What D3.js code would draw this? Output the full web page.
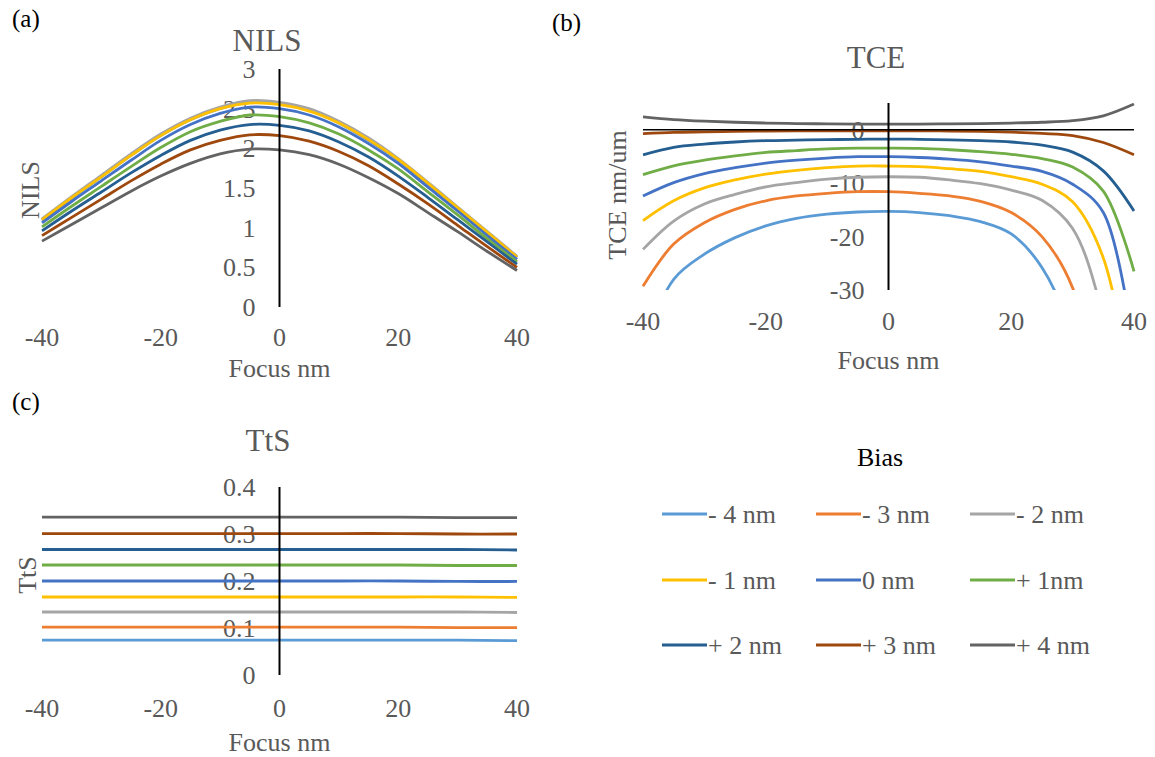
<!DOCTYPE html>
<html>
<head>
<meta charset="utf-8">
<script src="https://cdn.jsdelivr.net/npm/d3@7"></script>
<style>
  body { margin: 0; background: #fff; }
  svg { display: block; }
  text { font-family: "Liberation Serif", "Times New Roman", serif; }
</style>
</head>
<body>
<svg id="chart" width="1155" height="757"></svg>
<script>
// bias series (legend order)
const biasLabels = ['- 4 nm', '- 3 nm', '- 2 nm', '- 1 nm', '0 nm', '+ 1nm', '+ 2 nm', '+ 3 nm', '+ 4 nm']
const biasColors = ['#5b9bd5', '#ed7d31', '#a5a5a5', '#ffc000', '#4472c4', '#70ad47', '#255e91', '#9e480e', '#636363']

const focus = [-40, -35, -30, -25, -20, -15, -10, -5, 0, 5, 10, 15, 20, 25, 30, 35, 40]
const ttsFocus = [-40, -30, -20, -10, 0, 10, 20, 30, 40]
const xTicks = [-40, -20, 0, 20, 40]

// NILS vs focus, one row per bias
const nilsValues = [
  [1.09, 1.37, 1.64, 1.91, 2.16, 2.36, 2.50, 2.58, 2.56, 2.48, 2.32, 2.10, 1.85, 1.55, 1.24, 0.93, 0.62],
  [1.10, 1.38, 1.65, 1.92, 2.17, 2.37, 2.51, 2.59, 2.57, 2.48, 2.33, 2.11, 1.86, 1.56, 1.25, 0.94, 0.63],
  [1.11, 1.39, 1.66, 1.93, 2.18, 2.38, 2.52, 2.60, 2.58, 2.50, 2.34, 2.13, 1.87, 1.57, 1.26, 0.95, 0.64],
  [1.10, 1.38, 1.64, 1.91, 2.16, 2.36, 2.50, 2.57, 2.55, 2.47, 2.32, 2.11, 1.86, 1.56, 1.25, 0.94, 0.63],
  [1.06, 1.33, 1.59, 1.85, 2.10, 2.30, 2.44, 2.52, 2.50, 2.42, 2.27, 2.06, 1.81, 1.51, 1.21, 0.90, 0.60],
  [1.01, 1.27, 1.52, 1.77, 2.01, 2.21, 2.34, 2.42, 2.40, 2.32, 2.18, 1.98, 1.74, 1.45, 1.16, 0.86, 0.57],
  [0.96, 1.21, 1.45, 1.69, 1.91, 2.10, 2.23, 2.30, 2.29, 2.22, 2.08, 1.89, 1.65, 1.38, 1.10, 0.82, 0.54],
  [0.90, 1.13, 1.36, 1.59, 1.80, 1.98, 2.10, 2.17, 2.16, 2.09, 1.96, 1.78, 1.55, 1.30, 1.03, 0.76, 0.50],
  [0.83, 1.04, 1.25, 1.46, 1.65, 1.81, 1.93, 1.99, 1.98, 1.92, 1.80, 1.63, 1.43, 1.19, 0.95, 0.70, 0.46]
]

// TCE (nm/um) vs focus, one row per bias
const tceValues = [
  [-40, -28.0, -23.3, -20.2, -18.0, -16.6, -15.8, -15.4, -15.3, -15.5, -16.1, -17.2, -19.5, -25.8, -39, -70, -110],
  [-29.3, -21.4, -17.4, -14.9, -13.3, -12.4, -11.9, -11.6, -11.6, -11.9, -12.4, -13.4, -15.5, -20.0, -29.6, -55, -90],
  [-22.4, -17.1, -13.9, -12.1, -10.7, -9.9, -9.25, -8.9, -8.8, -8.9, -9.4, -10.1, -11.3, -13.2, -18.5, -35, -65],
  [-17.0, -13.3, -10.9, -9.4, -8.3, -7.6, -7.1, -6.8, -6.8, -6.9, -7.3, -7.8, -8.8, -10.2, -13.5, -24, -52],
  [-12.4, -9.9, -8.2, -7.1, -6.25, -5.7, -5.3, -5.05, -5.05, -5.2, -5.5, -6.0, -6.8, -7.8, -10.2, -15.5, -41],
  [-8.4, -6.75, -5.7, -4.9, -4.25, -3.9, -3.6, -3.45, -3.45, -3.5, -3.75, -4.1, -4.6, -5.4, -7.0, -11.5, -26.5],
  [-4.7, -3.3, -2.7, -2.3, -2.05, -1.95, -1.85, -1.8, -1.75, -1.8, -1.9, -2.05, -2.3, -2.9, -4.2, -7.7, -15.2],
  [-0.75, -0.5, -0.4, -0.3, -0.25, -0.2, -0.2, -0.2, -0.2, -0.2, -0.25, -0.3, -0.45, -0.7, -1.1, -2.4, -4.7],
  [2.4, 1.9, 1.6, 1.4, 1.25, 1.15, 1.1, 1.05, 1.05, 1.05, 1.1, 1.15, 1.25, 1.4, 1.7, 2.6, 4.8]
]

// TtS vs focus, one row per bias
const ttsValues = [
  [0.074, 0.074, 0.074, 0.074, 0.074, 0.074, 0.074, 0.074, 0.073],
  [0.102, 0.102, 0.102, 0.102, 0.102, 0.102, 0.102, 0.101, 0.101],
  [0.134, 0.134, 0.134, 0.134, 0.134, 0.134, 0.134, 0.134, 0.133],
  [0.166, 0.166, 0.166, 0.166, 0.166, 0.166, 0.166, 0.166, 0.165],
  [0.200, 0.200, 0.200, 0.200, 0.200, 0.200, 0.200, 0.199, 0.199],
  [0.234, 0.234, 0.234, 0.234, 0.234, 0.234, 0.234, 0.233, 0.233],
  [0.267, 0.267, 0.267, 0.267, 0.267, 0.267, 0.267, 0.267, 0.266],
  [0.301, 0.301, 0.301, 0.301, 0.301, 0.301, 0.301, 0.300, 0.300],
  [0.336, 0.336, 0.336, 0.336, 0.336, 0.336, 0.336, 0.335, 0.335]
]

const textGray = '#595959'
const svg = d3.select('#chart')

function drawPanel (p) {
  const g = svg.append('g').attr('class', 'panel').attr('id', `panel-${p.id}`)
  const x = d3.scaleLinear().domain([-40, 40]).range(p.xRange)
  const y = d3.scaleLinear().domain(p.yDomain).range(p.yRange)

  // panel letter
  g.append('text')
    .attr('x', p.letterPos[0]).attr('y', p.letterPos[1])
    .attr('dy', '0.35em')
    .attr('font-size', 25).attr('fill', '#000')
    .text(`(${p.id})`)

  // chart title
  g.append('text')
    .attr('x', p.titlePos[0]).attr('y', p.titlePos[1])
    .attr('dy', '0.35em').attr('text-anchor', 'middle')
    .attr('font-size', 31).attr('fill', textGray)
    .text(p.title)

  // vertical axis title
  g.append('text')
    .attr('transform', `translate(${p.yTitlePos[0]},${p.yTitlePos[1]}) rotate(-90)`)
    .attr('dy', '0.35em').attr('text-anchor', 'middle')
    .attr('font-size', 26).attr('fill', textGray)
    .text(p.yTitle)

  // horizontal axis labels + title
  g.append('g').selectAll('text')
    .data(xTicks)
    .join('text')
    .attr('x', d => x(d)).attr('y', p.xLabelY)
    .attr('dy', '0.35em').attr('text-anchor', 'middle')
    .attr('font-size', 26).attr('fill', textGray)
    .text(d => d)
  g.append('text')
    .attr('x', x(0)).attr('y', p.xTitleY)
    .attr('dy', '0.35em').attr('text-anchor', 'middle')
    .attr('font-size', 26).attr('fill', textGray)
    .text('Focus nm')

  // vertical axis labels (sit beside the axis at x = 0)
  g.append('g').selectAll('text')
    .data(p.yTicks)
    .join('text')
    .attr('x', x(0) - 24).attr('y', d => y(d))
    .attr('dy', '0.35em').attr('text-anchor', 'end')
    .attr('font-size', 26).attr('fill', textGray)
    .text(p.yFormat)

  // clip to plot area
  const clipId = `clip-${p.id}`
  g.append('clipPath').attr('id', clipId)
    .append('rect')
    .attr('x', p.xRange[0] - 3).attr('y', y(p.yDomain[1]))
    .attr('width', p.xRange[1] - p.xRange[0] + 6)
    .attr('height', y(p.yDomain[0]) - y(p.yDomain[1]))

  const line = d3.line()
    .x(d => x(d[0]))
    .y(d => y(d[1]))
    .curve(d3.curveCatmullRom.alpha(0.5))

  g.append('g').attr('clip-path', `url(#${clipId})`)
    .selectAll('path')
    .data(p.values)
    .join('path')
    .attr('d', vals => line(p.xs.map((f, i) => [f, vals[i]])))
    .attr('fill', 'none')
    .attr('stroke', (d, i) => biasColors[i])
    .attr('stroke-width', 2.8)
    .attr('stroke-linejoin', 'round')

  // horizontal axis line at zero (only TCE shows it)
  if (p.zeroLine) {
    g.append('line')
      .attr('x1', p.xRange[0]).attr('x2', p.xRange[1])
      .attr('y1', y(0)).attr('y2', y(0))
      .attr('stroke', '#000').attr('stroke-width', 1.5)
  }

  // vertical axis line
  g.append('line')
    .attr('x1', x(0)).attr('x2', x(0))
    .attr('y1', y(p.yDomain[1])).attr('y2', y(p.yDomain[0]))
    .attr('stroke', '#000').attr('stroke-width', 2)
}

drawPanel({
  id: 'a',
  title: 'NILS',
  yTitle: 'NILS',
  letterPos: [12, 18],
  titlePos: [267, 40],
  yTitlePos: [30, 190],
  xRange: [42, 517],
  yRange: [307, 69],
  yDomain: [0, 3],
  yTicks: [0, 0.5, 1, 1.5, 2, 2.5, 3],
  yFormat: d => d,
  xLabelY: 337,
  xTitleY: 368,
  xs: focus,
  values: nilsValues
})

drawPanel({
  id: 'b',
  title: 'TCE',
  yTitle: 'TCE nm/um',
  letterPos: [552, 22],
  titlePos: [876, 57],
  yTitlePos: [617, 195],
  xRange: [643, 1134],
  yRange: [290, 103],
  yDomain: [-30, 5],
  yTicks: [-30, -20, -10, 0],
  yFormat: d => d,
  xLabelY: 321,
  xTitleY: 360,
  xs: focus,
  values: tceValues,
  zeroLine: true
})

drawPanel({
  id: 'c',
  title: 'TtS',
  yTitle: 'TtS',
  letterPos: [12, 401],
  titlePos: [268, 440],
  yTitlePos: [27, 575],
  xRange: [42, 517],
  yRange: [675, 487],
  yDomain: [0, 0.4],
  yTicks: [0, 0.1, 0.2, 0.3, 0.4],
  yFormat: d => d === 0 ? '0' : d3.format('.1f')(d),
  xLabelY: 708,
  xTitleY: 742,
  xs: ttsFocus,
  values: ttsValues
})

// legend
const legend = svg.append('g').attr('class', 'legend')
legend.append('text')
  .attr('x', 880).attr('y', 457)
  .attr('dy', '0.35em').attr('text-anchor', 'middle')
  .attr('font-size', 26).attr('fill', '#000')
  .text('Bias')

const colX = [662, 816, 970]
const rowY = [514, 580, 645]
const items = legend.selectAll('g.item')
  .data(biasLabels)
  .join('g')
  .attr('class', 'item')
  .attr('transform', (d, i) => `translate(${colX[i % 3]},${rowY[Math.floor(i / 3)]})`)
items.append('line')
  .attr('x1', 0).attr('x2', 45)
  .attr('stroke', (d, i) => biasColors[i])
  .attr('stroke-width', 3)
items.append('text')
  .attr('x', 46).attr('dy', '0.35em')
  .attr('font-size', 26).attr('fill', textGray)
  .text(d => d)
</script>
</body>
</html>
